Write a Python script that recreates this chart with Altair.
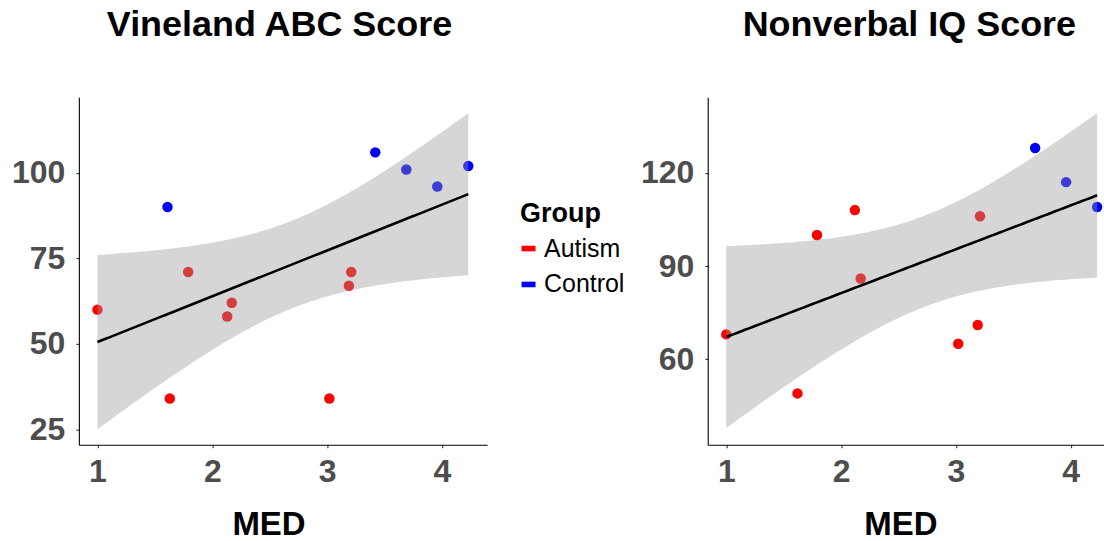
import altair as alt
import numpy as np
import pandas as pd

# Vineland ABC score vs MED
med_vabc = [1.00, 1.61, 1.63, 1.79, 2.13, 2.17, 3.02, 3.19, 3.21, 3.42, 3.69, 3.96, 4.23]
vabc = [60, 90, 34, 71, 58, 62, 34, 67, 71, 106, 101, 96, 102]
grp_vabc = ["Autism", "Control", "Autism", "Autism", "Autism", "Autism", "Autism",
            "Autism", "Autism", "Control", "Control", "Control", "Control"]

# Nonverbal IQ score vs MED
med_iq = [1.00, 1.62, 1.79, 2.12, 2.17, 3.02, 3.19, 3.21, 3.69, 3.96, 4.23]
nviq = [68, 49, 100, 108, 86, 65, 71, 106, 128, 117, 109]
grp_iq = ["Autism", "Autism", "Autism", "Autism", "Autism", "Autism", "Autism",
          "Autism", "Control", "Control", "Control"]

groups = ["Autism", "Control"]
group_colors = ["#FF0000", "#0000FF"]

# two-sided 95% t quantiles by residual degrees of freedom
T975 = {9: 2.262157, 11: 2.200985}

FONT = "Liberation Sans"


def fit_band(x, y, n_grid=100):
    """OLS fit with a 95% confidence band for the mean, as in geom_smooth(method='lm')."""
    x = np.asarray(x, float)
    y = np.asarray(y, float)
    n = len(x)
    xm = x.mean()
    sxx = ((x - xm) ** 2).sum()
    b1 = ((x - xm) * (y - y.mean())).sum() / sxx
    b0 = y.mean() - b1 * xm
    resid = y - (b0 + b1 * x)
    s = np.sqrt((resid ** 2).sum() / (n - 2))
    g = np.linspace(x.min(), x.max(), n_grid)
    fit = b0 + b1 * g
    se = s * np.sqrt(1.0 / n + (g - xm) ** 2 / sxx)
    t = T975[n - 2]
    return pd.DataFrame({"MED": g, "fit": fit, "lo": fit - t * se, "hi": fit + t * se})


def panel(x, y, grp, title, xdom, ydom, yticks, width, title_dx, xtitle_x):
    pts = pd.DataFrame({"MED": x, "score": y, "Group": grp})
    band = fit_band(x, y)
    xs = alt.Scale(domain=xdom, nice=False, zero=False)
    ys = alt.Scale(domain=ydom, nice=False, zero=False)
    xaxis = alt.Axis(values=[1, 2, 3, 4], format="d", title="MED",
                     titleX=xtitle_x, titleY=90, titleBaseline="alphabetic",
                     titleAlign="center", titleAngle=0)
    yaxis = alt.Axis(values=yticks, format="d", title=None)

    points = alt.Chart(pts).mark_circle(size=110, opacity=1).encode(
        x=alt.X("MED:Q", scale=xs, axis=xaxis),
        y=alt.Y("score:Q", scale=ys, axis=yaxis),
        color=alt.Color("Group:N", scale=alt.Scale(domain=groups, range=group_colors),
                        legend=alt.Legend(title="Group")),
    )
    ribbon = alt.Chart(band).mark_area(color="#999999", opacity=0.4).encode(
        x=alt.X("MED:Q", scale=xs),
        y=alt.Y("lo:Q", scale=ys),
        y2="hi:Q",
    )
    line = alt.Chart(band).mark_line(color="black", strokeWidth=2.6).encode(
        x=alt.X("MED:Q", scale=xs),
        y=alt.Y("fit:Q", scale=ys),
    )
    return alt.layer(points, ribbon, line).properties(
        width=width,
        height=348,
        title=alt.TitleParams(title, fontSize=36, font=FONT, fontWeight="bold",
                              color="black", anchor="middle", frame="group",
                              baseline="alphabetic", offset=25, dx=title_dx),
    )


left = panel(med_vabc, vabc, grp_vabc, "Vineland ABC Score",
             [0.838, 4.394], [20.5, 122.1], [25, 50, 75, 100], 409, -3.5, 190)
right = panel(med_iq, nviq, grp_iq, "Nonverbal IQ Score",
              [0.838, 4.290], [32.5, 144.3], [60, 90, 120], 397, 3.5, 193)

chart = alt.hconcat(left, right, spacing=153).properties(
    padding={"left": 11, "top": 7, "right": 0, "bottom": 0},
).configure_view(
    stroke=None
).configure_axis(
    grid=False,
    domainColor="black",
    domainWidth=1.1,
    tickColor="#333333",
    tickSize=3,
    tickWidth=1.1,
    labelFont=FONT,
    labelFontSize=32,
    labelFontWeight="bold",
    labelColor="#4D4D4D",
    labelPadding=9,
    titleFont=FONT,
    titleFontSize=33,
    titleFontWeight="bold",
    titleColor="black",
).configure_axisY(
    labelPadding=11,
).configure_legend(
    orient="none",
    legendX=442,
    legendY=104,
    titleFont=FONT,
    titleFontSize=27,
    titleFontWeight="bold",
    titleColor="black",
    labelFont=FONT,
    labelFontSize=25,
    labelColor="black",
    labelOffset=3,
    symbolOffset=-4,
    symbolType="M-1,-0.4L1,-0.4L1,0.4L-1,0.4Z",
    symbolSize=196,
    symbolStrokeWidth=0,
    symbolOpacity=1,
    rowPadding=10,
    titlePadding=8,
)

chart.save("out.html", embed_options={"renderer": "svg", "actions": False})
